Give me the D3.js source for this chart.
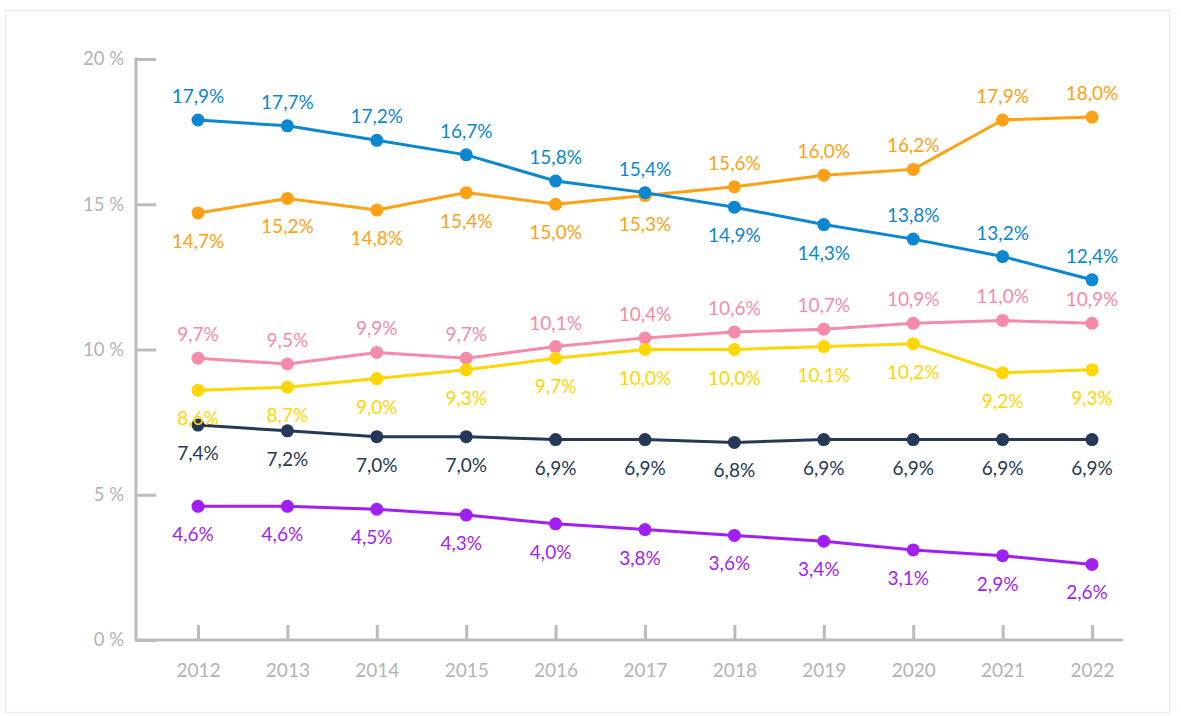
<!DOCTYPE html>
<html><head><meta charset="utf-8">
<script src="https://cdn.jsdelivr.net/npm/d3@7"></script>
<style>
html,body{margin:0;padding:0;background:#fff;}
svg{display:block;font-family:"Lato","Open Sans",sans-serif;}
</style></head>
<body><svg id="c" width="1181" height="716"></svg>
<script>
const years = [2012,2013,2014,2015,2016,2017,2018,2019,2020,2021,2022];
const yTicks = [0,5,10,15,20];
const blue   = [17.9,17.7,17.2,16.7,15.8,15.4,14.9,14.3,13.8,13.2,12.4];
const orange = [14.7,15.2,14.8,15.4,15.0,15.3,15.6,16.0,16.2,17.9,18.0];
const pink   = [9.7,9.5,9.9,9.7,10.1,10.4,10.6,10.7,10.9,11.0,10.9];
const yellow = [8.6,8.7,9.0,9.3,9.7,10.0,10.0,10.1,10.2,9.2,9.3];
const navy   = [7.4,7.2,7.0,7.0,6.9,6.9,6.8,6.9,6.9,6.9,6.9];
const purple = [4.6,4.6,4.5,4.3,4.0,3.8,3.6,3.4,3.1,2.9,2.6];
// label side per point: "a" above, "b" below
const blueSide   = ["a","a","a","a","a","a","b","b","a","a","a"];
const orangeSide = ["b","b","b","b","b","b","a","a","a","a","a"];
const pinkSide   = ["a","a","a","a","a","a","a","a","a","a","a"];
const yellowSide = ["b","b","b","b","b","b","b","b","b","b","b"];
const navySide   = ["b","b","b","b","b","b","b","b","b","b","b"];
const purpleSide = ["b","b","b","b","b","b","b","b","b","b","b"];

const series = [
  {vals: pink,   side: pinkSide,   color: "#f58ba8", dx: 0},
  {vals: yellow, side: yellowSide, color: "#ffd600", dx: 0},
  {vals: navy,   side: navySide,   color: "#253858", dx: 0},
  {vals: purple, side: purpleSide, color: "#a21ff3", dx: -5},
  {vals: orange, side: orangeSide, color: "#ffa114", dx: 0},
  {vals: blue,   side: blueSide,   color: "#0a87d0", dx: 0}
];

const svg = d3.select("#c");
svg.append("rect").attr("x",5.5).attr("y",10.5).attr("width",1164).attr("height",702)
  .attr("fill","#fff").attr("stroke","#e4eff9").attr("stroke-width",1.5);

const x = d3.scalePoint().domain(years).range([198,1092]);
const y = d3.scaleLinear().domain([0,20]).range([640,59]);
const axisColor = "#bbbbbb", tickText = "#b3b3b3";

// y axis
const yAxis = svg.append("g").attr("transform","translate(136,0)")
  .call(d3.axisRight(y).tickValues(yTicks).tickSize(20).tickFormat(d => d + " %"));
yAxis.select(".domain").remove();
yAxis.selectAll(".tick line").attr("stroke",axisColor).attr("stroke-width",3);
yAxis.selectAll(".tick text").attr("x",-12).attr("text-anchor","end")
  .attr("fill",tickText).attr("font-size",18.5).attr("font-family","Lato, sans-serif");
svg.append("line").attr("x1",136).attr("x2",136).attr("y1",y(20)-1.5).attr("y2",y(0)+1.5)
  .attr("stroke",axisColor).attr("stroke-width",3);

// x axis
const xAxis = svg.append("g").attr("transform","translate(0,640)")
  .call(d3.axisTop(x).tickSize(15).tickFormat(d => d));
xAxis.select(".domain").remove();
xAxis.selectAll(".tick line").attr("stroke",axisColor).attr("stroke-width",3);
xAxis.selectAll(".tick text").attr("y",37).attr("dy",0)
  .attr("fill",tickText).attr("font-size",19).attr("font-family","Lato, sans-serif");
svg.append("line").attr("x1",136).attr("x2",1123).attr("y1",640).attr("y2",640)
  .attr("stroke",axisColor).attr("stroke-width",3);

const line = d3.line().x((d,i) => x(years[i])).y(d => y(d));
const fmt = v => v.toFixed(1).replace(".", ",") + "%";

series.forEach(s => {
  const g = svg.append("g");
  g.append("path").attr("d", line(s.vals)).attr("fill","none")
    .attr("stroke", s.color).attr("stroke-width",3);
  g.selectAll("circle").data(s.vals).join("circle")
    .attr("cx",(d,i)=>x(years[i])).attr("cy",d=>y(d)).attr("r",6.5).attr("fill",s.color);
});
series.forEach(s => {
  svg.append("g").selectAll("text").data(s.vals).join("text")
    .attr("x",(d,i)=>x(years[i]) + s.dx)
    .attr("y",(d,i)=> s.side[i]==="a" ? y(d)-17 : y(d)+35)
    .attr("text-anchor","middle").attr("font-size",19).attr("fill",s.color)
    .text(d => fmt(d));
});
</script></body></html>
